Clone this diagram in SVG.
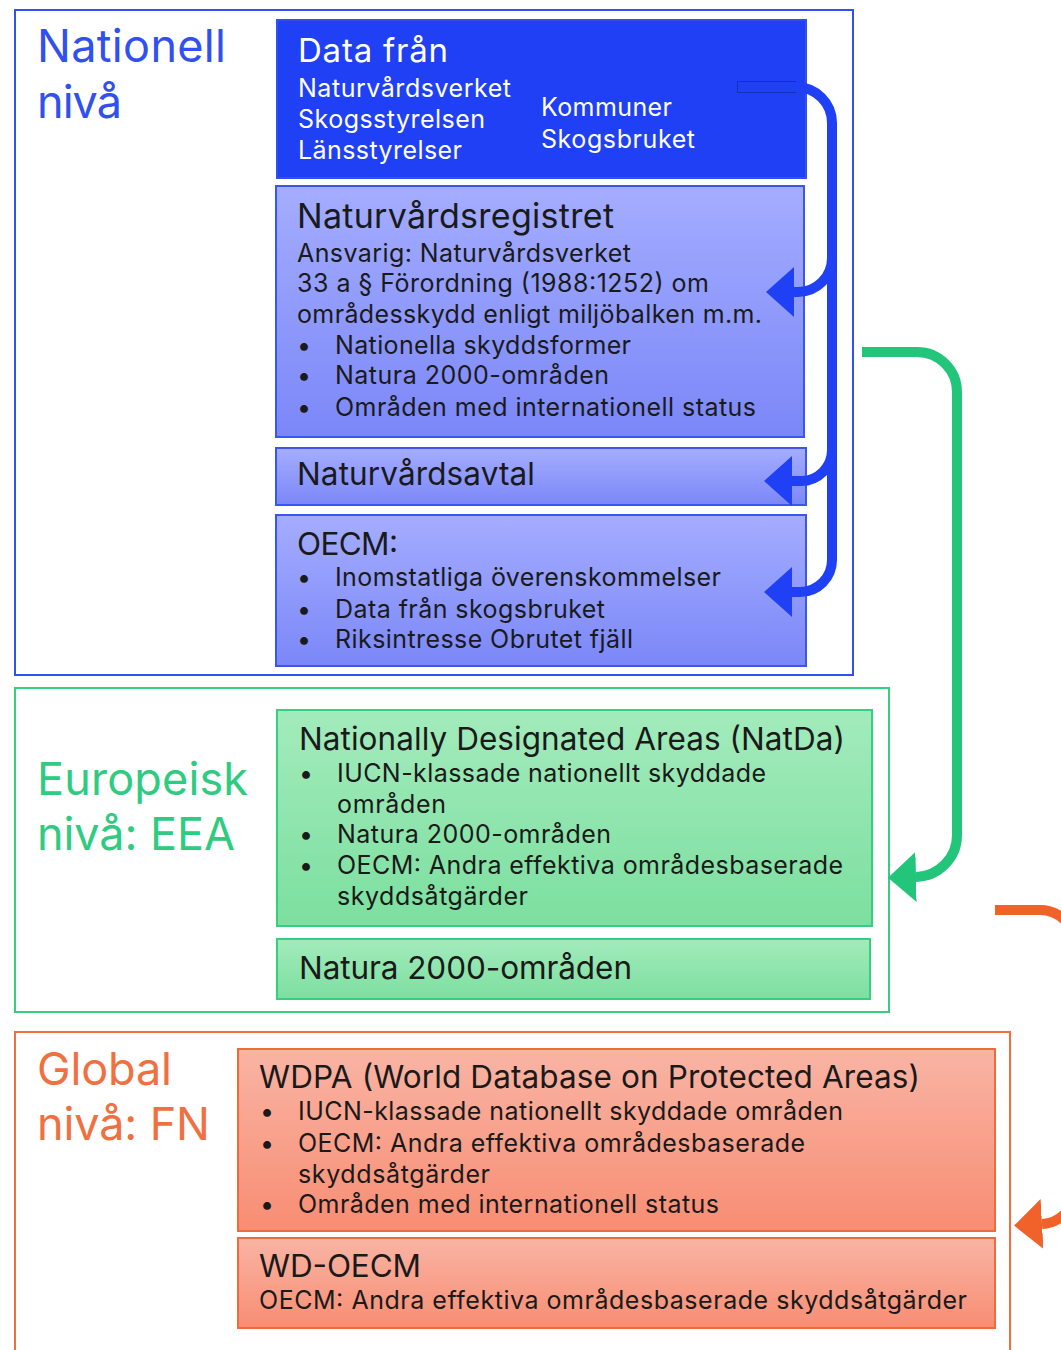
<svg xmlns="http://www.w3.org/2000/svg" width="1061" height="1350" viewBox="0 0 1061 1350">
<defs>
<style>
text{font-family:Inter,"Liberation Sans",sans-serif;}
.lvl{font-size:45px;}
.t{font-size:31.5px;fill:#1a1a1a;}
.b{font-size:25px;fill:#1a1a1a;}
.w{fill:#ffffff;}
.frame{fill:#ffffff;stroke-width:2;}
.bbox{fill:url(#gb);stroke:#3a55f0;stroke-width:2;}
.gbox{fill:url(#gg);stroke:#35cf80;stroke-width:2;}
.obox{fill:url(#go);stroke:#f06a3a;stroke-width:2;}
.conn{fill:none;stroke-width:10;}
</style>
<linearGradient id="gb" x1="0" y1="0" x2="0" y2="1"><stop offset="0" stop-color="#a4adff"/><stop offset="1" stop-color="#7b87f8"/></linearGradient>
<linearGradient id="gg" x1="0" y1="0" x2="0" y2="1"><stop offset="0" stop-color="#a3ebbc"/><stop offset="1" stop-color="#7cdf9f"/></linearGradient>
<linearGradient id="go" x1="0" y1="0" x2="0" y2="1"><stop offset="0" stop-color="#f9b4a4"/><stop offset="1" stop-color="#f88d73"/></linearGradient>
<marker id="mb" viewBox="0 0 28 50" refX="0" refY="25" markerWidth="28" markerHeight="50" markerUnits="userSpaceOnUse" orient="auto"><path d="M0,0 L28,25 L0,50 z" fill="#1f40f5"/></marker>
<marker id="mg" viewBox="0 0 28 50" refX="0" refY="25" markerWidth="28" markerHeight="50" markerUnits="userSpaceOnUse" orient="auto"><path d="M0,0 L28,25 L0,50 z" fill="#22c57a"/></marker>
<marker id="mo" viewBox="0 0 28 50" refX="0" refY="25" markerWidth="28" markerHeight="50" markerUnits="userSpaceOnUse" orient="auto"><path d="M0,0 L28,25 L0,50 z" fill="#f0622a"/></marker>
</defs>
<rect width="1061" height="1350" fill="#ffffff"/>

<g id="level-national">
<rect class="frame" x="15" y="10" width="838" height="665" stroke="#3050f0"/>
<text class="lvl" fill="#3050f0" x="37" y="62" textLength="189">Nationell</text>
<text class="lvl" fill="#3050f0" x="37" y="118" textLength="85">nivå</text>
</g>
<g id="level-european">
<rect class="frame" x="15" y="688" width="874" height="324" stroke="#35cf80"/>
<text class="lvl" fill="#2ecc80" x="37" y="795" textLength="211">Europeisk</text>
<text class="lvl" fill="#2ecc80" x="37" y="850" textLength="198">nivå: EEA</text>
</g>
<g id="level-global">
<rect class="frame" x="15" y="1032" width="995" height="330" stroke="#f07040"/>
<text class="lvl" fill="#f07040" x="37" y="1085" textLength="135">Global</text>
<text class="lvl" fill="#f07040" x="37" y="1140" textLength="173">nivå: FN</text>
</g>

<g id="node-data">
<rect x="277" y="20" width="529" height="158" fill="#1f40f5" stroke="#3050f0" stroke-width="2"/>
<text class="t w" x="298" y="62" style="font-size:33px" textLength="150">Data från</text>
<text class="b w" x="298" y="97" textLength="213">Naturvårdsverket</text>
<text class="b w" x="298" y="128" textLength="187">Skogsstyrelsen</text>
<text class="b w" x="298" y="159" textLength="164">Länsstyrelser</text>
<text class="b w" x="541" y="116" textLength="131">Kommuner</text>
<text class="b w" x="541" y="148" textLength="154">Skogsbruket</text>
</g>

<g id="node-naturvardsregistret">
<rect class="bbox" x="276" y="186" width="528" height="251"/>
<text class="t" x="297" y="228" style="font-size:34px" textLength="317">Naturvårdsregistret</text>
<text class="b" x="297" y="262" textLength="334">Ansvarig: Naturvårdsverket</text>
<text class="b" x="297" y="292" textLength="412">33 a § Förordning (1988:1252) om</text>
<text class="b" x="297" y="323" textLength="465">områdesskydd enligt miljöbalken m.m.</text>
<text class="b" x="297" y="354">•</text><text class="b" x="335" y="354" textLength="296">Nationella skyddsformer</text>
<text class="b" x="297" y="384">•</text><text class="b" x="335" y="384" textLength="274">Natura 2000-områden</text>
<text class="b" x="297" y="416">•</text><text class="b" x="335" y="416" textLength="421">Områden med internationell status</text>
</g>

<g id="node-naturvardsavtal">
<rect class="bbox" x="276" y="448" width="530" height="57"/>
<text class="t" x="297" y="485" textLength="238">Naturvårdsavtal</text>
</g>

<g id="node-oecm">
<rect class="bbox" x="276" y="515" width="530" height="151"/>
<text class="t" x="297" y="555" textLength="101">OECM:</text>
<text class="b" x="297" y="586">•</text><text class="b" x="335" y="586" textLength="386">Inomstatliga överenskommelser</text>
<text class="b" x="297" y="618">•</text><text class="b" x="335" y="618" textLength="270">Data från skogsbruket</text>
<text class="b" x="297" y="648">•</text><text class="b" x="335" y="648" textLength="298">Riksintresse Obrutet fjäll</text>
</g>

<g id="node-natda">
<rect class="gbox" x="277" y="710" width="595" height="216"/>
<text class="t" x="299" y="750" textLength="546">Nationally Designated Areas (NatDa)</text>
<text class="b" x="299" y="782">•</text><text class="b" x="337" y="782" textLength="429">IUCN-klassade nationellt skyddade</text>
<text class="b" x="337" y="813" textLength="109">områden</text>
<text class="b" x="299" y="843">•</text><text class="b" x="337" y="843" textLength="274">Natura 2000-områden</text>
<text class="b" x="299" y="874">•</text><text class="b" x="337" y="874" textLength="506">OECM: Andra effektiva områdesbaserade</text>
<text class="b" x="337" y="905" textLength="191">skyddsåtgärder</text>
</g>

<g id="node-natura2000">
<rect class="gbox" x="277" y="939" width="593" height="60"/>
<text class="t" x="299" y="979" textLength="333">Natura 2000-områden</text>
</g>

<g id="node-wdpa">
<rect class="obox" x="238" y="1049" width="757" height="182"/>
<text class="t" x="259" y="1088" textLength="661">WDPA (World Database on Protected Areas)</text>
<text class="b" x="260" y="1120">•</text><text class="b" x="298" y="1120" textLength="545">IUCN-klassade nationellt skyddade områden</text>
<text class="b" x="260" y="1152">•</text><text class="b" x="298" y="1152" textLength="507">OECM: Andra effektiva områdesbaserade</text>
<text class="b" x="298" y="1183" textLength="192">skyddsåtgärder</text>
<text class="b" x="260" y="1213">•</text><text class="b" x="298" y="1213" textLength="421">Områden med internationell status</text>
</g>

<g id="node-wdoecm">
<rect class="obox" x="238" y="1238" width="757" height="90"/>
<text class="t" x="259" y="1277" textLength="162">WD-OECM</text>
<text class="b" x="259" y="1309" textLength="708">OECM: Andra effektiva områdesbaserade skyddsåtgärder</text>
</g>

<g id="connectors">
<path fill="none" stroke="#1530c0" stroke-width="12" d="M737,87 H796"/>
<path class="conn" stroke="#1f40f5" d="M738,87 H796 A36,36 0 0 1 832,123 V560 A32,32 0 0 1 800,592 H792" marker-end="url(#mb)"/>
<path class="conn" stroke="#1f40f5" d="M832,258 A34,34 0 0 1 798,292 H794" marker-end="url(#mb)"/>
<path class="conn" stroke="#1f40f5" d="M832,450 A31,31 0 0 1 801,481 H792" marker-end="url(#mb)"/>
<path class="conn" stroke="#22c57a" d="M862,352 H917 A40,40 0 0 1 957,392 V835 A42,42 0 0 1 916,877" marker-end="url(#mg)"/>
<path class="conn" stroke="#f0622a" d="M995,910 H1040 A35,35 0 0 1 1075,945 V1189 A35,35 0 0 1 1042,1224" marker-end="url(#mo)"/>
</g>
</svg>
